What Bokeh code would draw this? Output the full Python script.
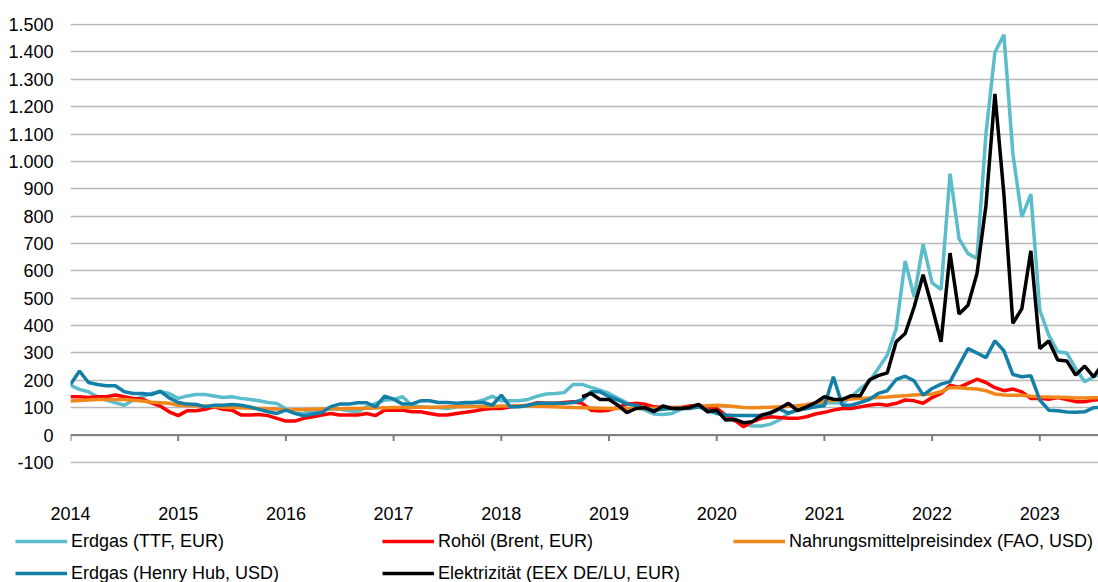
import numpy as np
import pandas as pd
from bokeh.plotting import figure
from bokeh.layouts import column
from bokeh.models import (Range1d, FixedTicker, CustomJSTickFormatter, Span, Legend, LegendItem)
from bokeh.embed import file_html
from bokeh.resources import INLINE

# ---------------- data (monthly values) ----------------
start_month = "2014-01"
elec_start_month = "2018-10"

ttf_eur = [182, 167, 158, 140, 128, 118, 109, 128, 140, 152, 158, 152,
           134, 143, 148, 148, 143, 137, 140, 134, 130, 125, 119, 115,
           95, 79, 80, 85, 91, 97, 94, 89, 85, 103, 116, 128,
           130, 140, 109, 103, 101, 101, 97, 103, 113, 119, 128, 142,
           125, 125, 125, 130, 142, 150, 152, 155, 185, 185, 174, 164,
           152, 134, 118, 103, 91, 77, 75, 79, 94, 106, 109, 85,
           85, 67, 52, 40, 33, 33, 40, 55, 79, 91, 97, 103,
           116, 119, 116, 140, 170, 195, 243, 292, 389, 636, 505, 697,
           556, 532, 955, 718, 663, 645, 1101, 1399, 1463, 1028, 797, 880,
           456, 365, 304, 300, 243, 195, 213, 225]

henry_hub_usd = [185, 234, 192, 185, 180, 180, 158, 152, 152, 148, 160, 136,
                 119, 113, 112, 103, 109, 109, 112, 109, 103, 94, 85, 79,
                 91, 79, 70, 77, 82, 104, 113, 113, 118, 118, 103, 142,
                 131, 113, 113, 125, 125, 119, 119, 116, 119, 119, 119, 109,
                 146, 103, 103, 109, 116, 116, 116, 116, 119, 128, 158, 158,
                 140, 128, 113, 109, 97, 91, 94, 97, 97, 97, 103, 91,
                 79, 73, 71, 71, 71, 71, 79, 95, 80, 91, 97, 103,
                 107, 213, 109, 109, 119, 130, 152, 162, 203, 215, 198, 146,
                 170, 186, 195, 255, 316, 300, 283, 344, 308, 221, 213, 217,
                 128, 91, 89, 84, 83, 85, 100, 102]

brent_eur = [140, 140, 137, 140, 140, 146, 140, 134, 131, 118, 106, 85,
             71, 89, 89, 94, 103, 94, 91, 73, 73, 75, 71, 61,
             51, 51, 61, 67, 73, 79, 73, 73, 73, 79, 71, 91,
             91, 91, 85, 85, 79, 73, 73, 79, 83, 88, 94, 97,
             97, 103, 106, 109, 118, 116, 116, 119, 122, 116, 91, 88,
             91, 101, 113, 116, 113, 103, 101, 101, 101, 106, 109, 97,
             97, 73, 55, 30, 49, 61, 67, 64, 61, 61, 67, 77,
             83, 91, 97, 97, 103, 109, 113, 109, 116, 128, 125, 116,
             137, 152, 182, 174, 189, 204, 192, 173, 162, 168, 158, 134,
             134, 131, 137, 130, 122, 122, 128, 130]

fao_food_usd = [124, 126, 128, 130, 130, 130, 130, 127, 124, 120, 118, 116,
                109, 108, 107, 106, 104, 102, 101, 100, 98, 97, 96, 95,
                91, 92, 93, 94, 95, 96, 96, 97, 97, 98, 99, 100,
                101, 101, 101, 102, 102, 102, 103, 103, 103, 104, 104, 104,
                106, 106, 106, 106, 105, 104, 103, 102, 101, 100, 99, 98,
                97, 97, 97, 97, 97, 98, 99, 100, 101, 102, 104, 107,
                109, 107, 104, 101, 100, 101, 102, 103, 105, 107, 111, 118,
                124, 127, 130, 132, 134, 135, 137, 139, 142, 144, 146, 148,
                150, 158, 174, 173, 170, 168, 162, 150, 146, 145, 145, 142,
                140, 139, 138, 137, 135, 135, 136, 136]

elec_eex = [140, 152, 130,
            130, 109, 82, 97, 101, 85, 106, 97, 97, 101, 112, 85,
            91, 55, 57, 45, 49, 73, 82, 97, 116, 89, 103, 118,
            140, 131, 130, 144, 144, 201, 217, 227, 341, 371, 468, 586,
            468, 341, 665, 442, 474, 590, 839, 1247, 880, 408, 462, 673,
            316, 344, 274, 271, 219, 252, 213, 260]

year_ticks = list(range(2014, 2024))
y_ticks = list(range(-100, 1600, 100))

labels = ["Erdgas (TTF, EUR)", "Rohöl (Brent, EUR)", "Nahrungsmittelpreisindex (FAO, USD)",
          "Erdgas (Henry Hub, USD)", "Elektrizität (EEX DE/LU, EUR)"]
colors = ["#5bbccb", "#ff0000", "#f0871b", "#137fa6", "#000000"]


def dec_years(start, n):
    d = pd.date_range(start, periods=n, freq="MS")
    return (d.year + (d.month - 1) / 12.0).to_numpy()


x_main = dec_years(start_month, len(ttf_eur))
x_elec = dec_years(elec_start_month, len(elec_eex))

FONT = "'Liberation Sans', Arial, sans-serif"
FS = "18px"
W = 3.5


def no_align(fig):
    if "frame_align" in fig.properties():
        fig.frame_align = False


p = figure(width=1098, height=530, output_backend="svg", toolbar_location=None,
           x_range=Range1d(2014, 2023.545), y_range=Range1d(-104, 1504),
           min_border_left=70, min_border_right=0, min_border_top=23, min_border_bottom=67)
no_align(p)
p.outline_line_color = None
p.background_fill_color = "white"
p.border_fill_color = "white"

# grid
p.xgrid.visible = False
p.ygrid.ticker = FixedTicker(ticks=y_ticks)
p.ygrid.grid_line_color = "#b9b9b9"
p.ygrid.grid_line_width = 1.5

# y axis
p.yaxis.ticker = FixedTicker(ticks=y_ticks)
p.yaxis.formatter = CustomJSTickFormatter(code="""
var s = Math.round(Math.abs(tick)).toString().replace(/\\B(?=(\\d{3})+(?!\\d))/g, '.');
return (tick < 0 ? '-' : '') + s;
""")
p.yaxis.axis_line_color = None
p.yaxis.major_tick_line_color = None
p.yaxis.minor_tick_line_color = None
p.yaxis.major_tick_out = 0
p.yaxis.major_tick_in = 0
p.yaxis.major_label_standoff = 17
p.yaxis.major_label_text_font = FONT
p.yaxis.major_label_text_font_size = FS
p.yaxis.major_label_text_color = "black"

# x axis (labels only at bottom)
p.xaxis.ticker = FixedTicker(ticks=year_ticks)
p.xaxis.formatter = CustomJSTickFormatter(code="return tick.toFixed(0);")
p.xaxis.axis_line_color = None
p.xaxis.major_tick_line_color = None
p.xaxis.minor_tick_line_color = None
p.xaxis.major_tick_out = 0
p.xaxis.major_tick_in = 0
p.xaxis.major_label_standoff = 43
p.xaxis.major_label_text_font = FONT
p.xaxis.major_label_text_font_size = FS
p.xaxis.major_label_text_color = "black"

# zero line with year ticks
p.add_layout(Span(location=0, dimension="width", line_color="#808080", line_width=2))
p.segment(x0=year_ticks, y0=[0] * len(year_ticks), x1=year_ticks, y1=[-22] * len(year_ticks),
          line_color="#808080", line_width=2)

series = [(x_main, ttf_eur), (x_main, brent_eur), (x_main, fao_food_usd),
          (x_main, henry_hub_usd), (x_elec, elec_eex)]
for (xs, ys), c in zip(series, colors):
    p.line(xs, ys, line_color=c, line_width=W)

# ---------------- legend strip (same series, out of its view range) ----------------
lg = figure(width=1098, height=52, output_backend="svg", toolbar_location=None,
            x_range=Range1d(0, 1), y_range=Range1d(0, 1),
            x_axis_location=None, y_axis_location=None,
            min_border_left=0, min_border_right=0, min_border_top=0, min_border_bottom=0)
no_align(lg)
lg.outline_line_color = None
lg.xgrid.visible = False
lg.ygrid.visible = False
lg_r = [lg.line(xs, ys, line_color=c, line_width=W) for (xs, ys), c in zip(series, colors)]

columns_spec = [([0, 3], 15), ([1, 4], 382), ([2], 733)]
for idx, x0 in columns_spec:
    n = len(idx)
    leg = Legend(items=[LegendItem(label=labels[i], renderers=[lg_r[i]]) for i in idx],
                 location=(x0, -2 if n == 2 else 30),
                 orientation="vertical", padding=0, margin=0, spacing=10,
                 glyph_width=52, glyph_height=22, label_height=22,
                 label_standoff=4,
                 label_text_font=FONT, label_text_font_size=FS,
                 label_text_color="black",
                 border_line_alpha=0, background_fill_alpha=0)
    lg.add_layout(leg, "center")

layout = column(p, lg, spacing=0)
open("out.html", "w").write(file_html(layout, INLINE))
